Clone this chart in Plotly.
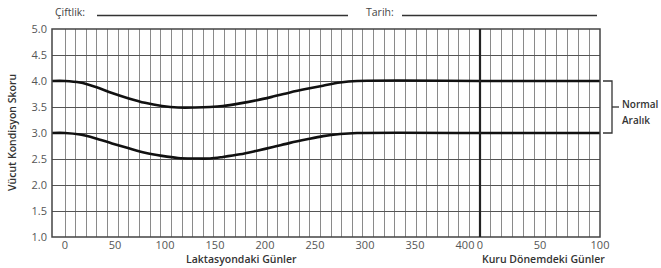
import plotly.graph_objects as go

# ---- data ----
lact_days = [-13, 0, 15, 30, 47, 63, 80, 97, 113, 130, 145, 158, 175, 192, 208, 225, 242, 258, 275, 292, 415]
upper_bcs = [4.0, 4.0, 3.97, 3.89, 3.77, 3.67, 3.58, 3.52, 3.49, 3.49, 3.50, 3.52, 3.57, 3.63, 3.70, 3.78, 3.85, 3.91, 3.97, 4.0, 4.0]
lower_bcs = [3.0, 3.0, 2.97, 2.90, 2.80, 2.71, 2.62, 2.56, 2.52, 2.51, 2.51, 2.54, 2.59, 2.66, 2.73, 2.81, 2.88, 2.94, 2.98, 3.0, 3.0]
dry_days = [0, 100]
dry_upper = [4.0, 4.0]
dry_lower = [3.0, 3.0]
lact_ticks = [0, 50, 100, 150, 200, 250, 300, 350, 400]
dry_ticks = [0, 50, 100]
y_ticks = [1.0, 1.5, 2.0, 2.5, 3.0, 3.5, 4.0, 4.5, 5.0]

W, H = 661, 268
L, R, T, B = 52, 600, 29, 237
SPLIT = 480
FONT = "Open Sans"


def px(x):
    return (x - L) / (R - L)


def py(y):
    return (B - y) / (B - T)


split_paper = px(SPLIT)

fig = go.Figure()
line_style = dict(color="#111111", width=2.6, shape="spline", smoothing=0.9)
fig.add_trace(go.Scatter(x=lact_days, y=upper_bcs, mode="lines", line=line_style,
                         xaxis="x", yaxis="y", showlegend=False, hoverinfo="skip"))
fig.add_trace(go.Scatter(x=lact_days, y=lower_bcs, mode="lines", line=line_style,
                         xaxis="x", yaxis="y", showlegend=False, hoverinfo="skip"))
fig.add_trace(go.Scatter(x=dry_days, y=dry_upper, mode="lines", line=dict(color="#111111", width=2.6),
                         xaxis="x2", yaxis="y", showlegend=False, hoverinfo="skip", cliponaxis=False))
fig.add_trace(go.Scatter(x=dry_days, y=dry_lower, mode="lines", line=dict(color="#111111", width=2.6),
                         xaxis="x2", yaxis="y", showlegend=False, hoverinfo="skip", cliponaxis=False))

lact_range = [-13, SPLIT - 65]
n_lact = 39
lact_grid = [i * (SPLIT - 65) / n_lact for i in range(0, n_lact)]
dry_grid = [i * 100 / 11 for i in range(1, 11)]

tickfont = dict(family=FONT, size=11, color="#555555")
grid_v = "#8a8a8a"

fig.update_layout(
    width=W, height=H,
    margin=dict(l=L, r=W - R, t=T, b=H - B, pad=0),
    paper_bgcolor="white", plot_bgcolor="white",
    xaxis=dict(domain=[0, split_paper], range=lact_range, tickvals=lact_ticks,
               ticks="", showgrid=False, zeroline=False, tickfont=tickfont,
               minor=dict(tickvals=lact_grid, showgrid=True, gridcolor=grid_v, gridwidth=1.4, ticks="")),
    xaxis2=dict(domain=[split_paper, 1], range=[0, 100], tickvals=dry_ticks, anchor="y",
                ticks="", showgrid=False, zeroline=False, tickfont=tickfont,
                minor=dict(tickvals=dry_grid, showgrid=True, gridcolor=grid_v, gridwidth=1.4, ticks="")),
    yaxis=dict(range=[1.0, 5.0], tickvals=y_ticks, ticktext=[f"{v:.1f}" for v in y_ticks],
               ticks="", showgrid=True, gridcolor="#555555", gridwidth=1.3, zeroline=False,
               tickfont=tickfont, ticklabelstandoff=4),
    font=dict(family=FONT),
)

shapes = []
# plot border
shapes.append(dict(type="rect", xref="paper", yref="paper", x0=0, x1=1, y0=0, y1=1,
                   line=dict(color="#444444", width=1.5), layer="above"))
# lactation / dry separator
shapes.append(dict(type="line", xref="paper", yref="paper", x0=split_paper, x1=split_paper, y0=0, y1=1,
                   line=dict(color="#222222", width=2.2), layer="above"))
# header underlines
shapes.append(dict(type="line", xref="paper", yref="paper", x0=px(97), x1=px(348), y0=py(15.5), y1=py(15.5),
                   line=dict(color="#333333", width=1.3)))
shapes.append(dict(type="line", xref="paper", yref="paper", x0=px(402), x1=px(597), y0=py(15.5), y1=py(15.5),
                   line=dict(color="#333333", width=1.3)))
# bracket for normal range
bx0, bx1, bx2 = px(603), px(612), px(619)
ytop, ybot, ymid = py(81), py(133), py(107)
shapes.append(dict(type="path", xref="paper", yref="paper",
                   path=f"M {bx0} {ytop} L {bx1} {ytop} L {bx1} {ybot} L {bx0} {ybot}",
                   line=dict(color="#333333", width=1.3)))
shapes.append(dict(type="line", xref="paper", yref="paper", x0=bx1, x1=bx2, y0=ymid, y1=ymid,
                   line=dict(color="#333333", width=1.3)))
fig.update_layout(shapes=shapes)

anns = []
txt = dict(family=FONT, size=10.5, color="#444444")
anns.append(dict(text="Çiftlik:", x=px(53), y=py(12), xref="paper", yref="paper",
                 xanchor="left", yanchor="middle", showarrow=False, font=txt))
anns.append(dict(text="Tarih:", x=px(364), y=py(12), xref="paper", yref="paper",
                 xanchor="left", yanchor="middle", showarrow=False, font=txt))
ttl = dict(family=FONT, size=10.5, color="#333333", weight=600)
anns.append(dict(text="Laktasyondaki Günler", x=px(241), y=py(259), xref="paper", yref="paper",
                 xanchor="center", yanchor="middle", showarrow=False, font=ttl))
anns.append(dict(text="Kuru Dönemdeki Günler", x=px(607), y=py(259), xref="paper", yref="paper",
                 xanchor="right", yanchor="middle", showarrow=False, font=ttl))
anns.append(dict(text="Vücut Kondisyon Skoru", x=px(12), y=py(133), xref="paper", yref="paper",
                 xanchor="center", yanchor="middle", textangle=-90, showarrow=False, font=ttl))
anns.append(dict(text="Normal", x=px(620), y=py(104), xref="paper", yref="paper",
                 xanchor="left", yanchor="middle", showarrow=False, font=dict(ttl, size=10)))
anns.append(dict(text="Aralık", x=px(620), y=py(120), xref="paper", yref="paper",
                 xanchor="left", yanchor="middle", showarrow=False, font=dict(ttl, size=10)))
fig.update_layout(annotations=anns)

fig.write_html("out.html", config={"displayModeBar": False},
               post_script="document.body.style.margin='0';document.body.style.padding='0';")
